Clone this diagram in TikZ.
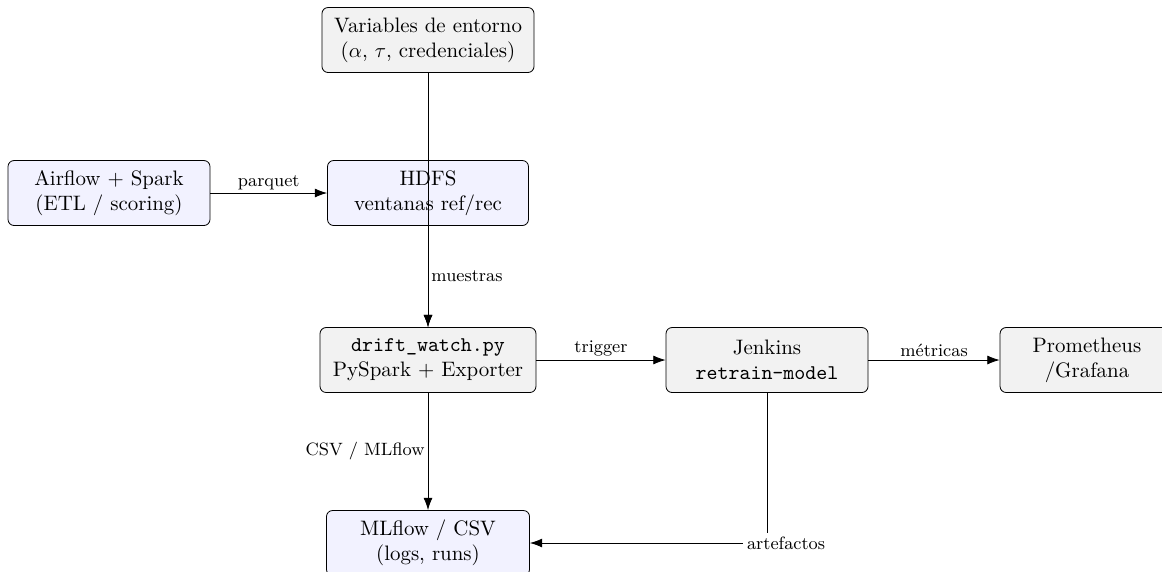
\documentclass[tikz,border=0pt]{standalone}
\usepackage{fontspec}
\usetikzlibrary{arrows.meta}
\begin{document}
\begin{tikzpicture}[x=0.4876pt, y=-0.4876pt,
  box/.style={draw, rounded corners=3pt, align=center, minimum height=31.7pt, inner sep=3pt, font=\fontsize{10.2}{12.2}\selectfont},
  gbox/.style={box, fill=gray!10},
  bbox/.style={box, fill=blue!5},
  arr/.style={-{Latex[length=6pt,width=4.4pt]}},
  lab/.style={font=\fontsize{8.7}{10}\selectfont, inner sep=1.5pt}]
\useasboundingbox (0,0) rectangle (1162,571);
\node[gbox, minimum width=103.4pt] (var) at (428,40) {Variables de entorno\\($\alpha$, $\tau$, credenciales)};
\node[bbox, minimum width=98.5pt] (air) at (109,193) {Airflow + Spark\\(ETL / scoring)};
\node[bbox, minimum width=98pt] (hdfs) at (428,193) {HDFS\\ventanas ref/rec};
\node[gbox, minimum width=105.3pt] (drift) at (428,360) {\texttt{drift\_watch.py}\\PySpark + Exporter};
\node[gbox, minimum width=98.5pt] (jenk) at (767,360) {Jenkins\\\texttt{retrain-model}};
\node[gbox, minimum width=84.8pt] (prom) at (1087,360) {Prometheus\\/Grafana};
\node[bbox, minimum width=99pt] (ml) at (428,543) {MLflow / CSV\\(logs, runs)};
\draw[arr] (var) -- (drift);
\draw[arr] (air) -- node[lab, above]{parquet} (hdfs);
\draw[arr] (hdfs) -- node[lab, right]{muestras} (drift);
\draw[arr] (drift) -- node[lab, above]{trigger} (jenk);
\draw[arr] (jenk) -- node[lab, above]{métricas} (prom);
\draw[arr] (drift) -- node[lab, left]{CSV / MLflow} (ml);
\draw[arr] (jenk) |- node[lab, pos=0.5, fill=white, inner sep=2pt, xshift=9.3pt]{artefactos} (ml);
\end{tikzpicture}
\end{document}
